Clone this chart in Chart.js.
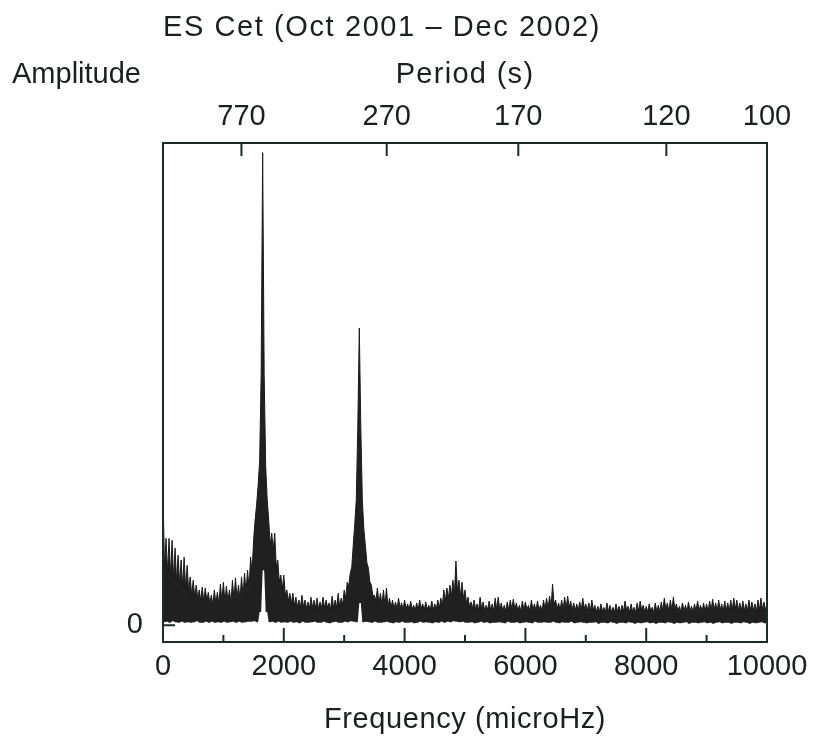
<!DOCTYPE html>
<html>
<head>
<meta charset="utf-8">
<script src="https://cdn.jsdelivr.net/npm/chart.js@4.4.1/dist/chart.umd.min.js"></script>
<style>
  html, body { margin: 0; padding: 0; background: #ffffff; }
  #wrap { width: 817px; height: 743px; }
</style>
</head>
<body>
<div id="wrap"><canvas id="c" width="817" height="743"></canvas></div>
<script>
// ---- data ----
const chartTitle = "ES Cet (Oct 2001 \u2013 Dec 2002)";
const yTitle = "Amplitude";
const topTitle = "Period (s)";
const xTitle = "Frequency (microHz)";

const freqStep = 50;                       // microHz between bins
const freqTicks = [0, 2000, 4000, 6000, 8000, 10000];
const freqMinorTicks = [1000, 3000, 5000, 7000, 9000];
const periodTicks = [770, 270, 170, 120, 100];   // seconds
const ampTicks = [0];

// spectrum amplitude at each 50 microHz bin (tops of the spikes)
const peakAmp = [
  2.70, 1.80, 1.80, 1.76, 1.60, 1.45, 1.35, 1.41, 1.24, 1.00,
  0.93, 0.83, 0.73, 0.79, 0.77, 0.68, 0.62, 0.73, 0.68, 0.85,
  0.89, 0.81, 0.73, 0.93, 0.98, 0.83, 1.00, 1.08, 1.14, 1.41,
  1.76, 2.50, 3.40, 9.80, 3.30, 2.18, 1.91, 1.91, 1.35, 1.04,
  1.04, 0.73, 0.66, 0.66, 0.58, 0.52, 0.62, 0.52, 0.48, 0.58,
  0.52, 0.56, 0.48, 0.58, 0.52, 0.46, 0.60, 0.52, 0.66, 0.56,
  0.73, 0.89, 1.08, 1.66, 2.60, 6.16, 2.60, 1.66, 1.18, 0.83,
  0.62, 0.77, 0.66, 0.73, 0.77, 0.56, 0.52, 0.48, 0.56, 0.46,
  0.52, 0.44, 0.50, 0.41, 0.46, 0.52, 0.44, 0.48, 0.41, 0.50,
  0.44, 0.52, 0.56, 0.73, 0.77, 0.83, 0.93, 1.33, 0.93, 0.89,
  0.73, 0.58, 0.48, 0.52, 0.44, 0.58, 0.48, 0.41, 0.50, 0.44,
  0.56, 0.58, 0.46, 0.41, 0.48, 0.52, 0.54, 0.46, 0.41, 0.50,
  0.48, 0.41, 0.52, 0.44, 0.50, 0.41, 0.52, 0.56, 0.60, 0.85,
  0.52, 0.46, 0.52, 0.58, 0.60, 0.50, 0.46, 0.44, 0.48, 0.56,
  0.44, 0.46, 0.52, 0.41, 0.39, 0.44, 0.37, 0.46, 0.41, 0.37,
  0.44, 0.39, 0.41, 0.50, 0.39, 0.44, 0.37, 0.46, 0.50, 0.41,
  0.39, 0.44, 0.37, 0.46, 0.41, 0.48, 0.56, 0.46, 0.52, 0.58,
  0.44, 0.39, 0.46, 0.41, 0.48, 0.39, 0.44, 0.50, 0.41, 0.46,
  0.44, 0.50, 0.54, 0.46, 0.52, 0.44, 0.50, 0.46, 0.52, 0.56,
  0.52, 0.46, 0.50, 0.44, 0.52, 0.48, 0.44, 0.52, 0.56, 0.48,
  0.46
];

// spectrum amplitude half-way between bins (the dips between spikes)
const dipAmp = [
  1.20, 1.10, 1.00, 0.95, 0.90, 0.85, 0.80, 0.75, 0.70, 0.62,
  0.58, 0.55, 0.50, 0.48, 0.50, 0.45, 0.42, 0.45, 0.44, 0.50,
  0.48, 0.50, 0.46, 0.52, 0.55, 0.52, 0.60, 0.68, 0.75, 1.10,
  2.18, 2.90, 5.20, 5.20, 2.60, 1.66, 1.56, 1.20, 0.90, 0.75,
  0.62, 0.50, 0.45, 0.40, 0.38, 0.36, 0.38, 0.35, 0.34, 0.36,
  0.35, 0.33, 0.35, 0.34, 0.36, 0.33, 0.35, 0.36, 0.38, 0.42,
  0.55, 0.80, 1.20, 2.10, 4.10, 4.10, 2.00, 1.30, 0.90, 0.60,
  0.50, 0.45, 0.42, 0.40, 0.38, 0.36, 0.34, 0.33, 0.35, 0.32,
  0.34, 0.32, 0.33, 0.31, 0.32, 0.34, 0.31, 0.33, 0.31, 0.32,
  0.33, 0.35, 0.40, 0.50, 0.55, 0.60, 0.65, 0.70, 0.60, 0.55,
  0.45, 0.38, 0.35, 0.33, 0.31, 0.33, 0.30, 0.32, 0.31, 0.29,
  0.33, 0.32, 0.30, 0.29, 0.31, 0.33, 0.32, 0.30, 0.29, 0.31,
  0.32, 0.29, 0.31, 0.30, 0.32, 0.29, 0.33, 0.35, 0.38, 0.42,
  0.34, 0.31, 0.33, 0.35, 0.36, 0.32, 0.30, 0.31, 0.32, 0.34,
  0.30, 0.29, 0.31, 0.28, 0.27, 0.29, 0.26, 0.28, 0.27, 0.26,
  0.28, 0.27, 0.29, 0.31, 0.27, 0.28, 0.26, 0.29, 0.31, 0.28,
  0.27, 0.29, 0.26, 0.28, 0.27, 0.30, 0.33, 0.29, 0.31, 0.33,
  0.29, 0.27, 0.29, 0.28, 0.30, 0.27, 0.29, 0.31, 0.28, 0.29,
  0.28, 0.31, 0.32, 0.29, 0.31, 0.28, 0.30, 0.29, 0.31, 0.33,
  0.31, 0.29, 0.30, 0.28, 0.31, 0.30, 0.28, 0.31, 0.32, 0.30,
  0.30
];

// bottom edge of the noise band at each bin (raised under the two big peaks)
const floorAmp = [
  0.06, 0.07, 0.05, 0.08, 0.06, 0.05, 0.07, 0.05, 0.06, 0.05,
  0.06, 0.08, 0.05, 0.05, 0.07, 0.05, 0.07, 0.05, 0.06, 0.05,
  0.07, 0.05, 0.06, 0.07, 0.05, 0.07, 0.05, 0.06, 0.07, 0.07,
  0.08, 0.06, 0.27, 1.14, 0.27, 0.06, 0.07, 0.05, 0.07, 0.05,
  0.06, 0.05, 0.07, 0.05, 0.06, 0.04, 0.07, 0.05, 0.05, 0.06,
  0.07, 0.05, 0.05, 0.07, 0.05, 0.04, 0.06, 0.07, 0.05, 0.05,
  0.07, 0.06, 0.08, 0.07, 0.06, 0.46, 0.06, 0.07, 0.06, 0.05,
  0.07, 0.05, 0.05, 0.06, 0.07, 0.05, 0.04, 0.06, 0.05, 0.07,
  0.05, 0.05, 0.06, 0.04, 0.05, 0.07, 0.05, 0.06, 0.05, 0.04,
  0.06, 0.05, 0.07, 0.05, 0.07, 0.06, 0.08, 0.07, 0.06, 0.07,
  0.05, 0.05, 0.06, 0.04, 0.05, 0.07, 0.05, 0.06, 0.04, 0.05,
  0.05, 0.06, 0.05, 0.04, 0.07, 0.05, 0.05, 0.06, 0.04, 0.05,
  0.06, 0.05, 0.04, 0.07, 0.05, 0.05, 0.06, 0.05, 0.05, 0.07,
  0.05, 0.04, 0.06, 0.05, 0.05, 0.07, 0.04, 0.05, 0.06, 0.05,
  0.04, 0.05, 0.05, 0.06, 0.03, 0.05, 0.05, 0.04, 0.06, 0.05,
  0.03, 0.05, 0.05, 0.04, 0.06, 0.05, 0.03, 0.05, 0.04, 0.05,
  0.06, 0.04, 0.05, 0.03, 0.05, 0.05, 0.04, 0.06, 0.05, 0.03,
  0.05, 0.04, 0.05, 0.06, 0.03, 0.05, 0.05, 0.04, 0.05, 0.06,
  0.04, 0.05, 0.03, 0.05, 0.06, 0.04, 0.05, 0.05, 0.03, 0.05,
  0.05, 0.04, 0.06, 0.05, 0.03, 0.05, 0.04, 0.05, 0.06, 0.04,
  0.05
];

// ---- build the library's data from the arrays ----
const spectrum = [];
const bandFloor = [];
for (let i = 0; i < peakAmp.length; i++) {
  const f = i * freqStep;
  spectrum.push({ x: f, y: peakAmp[i] });
  bandFloor.push({ x: f, y: floorAmp[i] });
  if (i < peakAmp.length - 1) {
    spectrum.push({ x: f + freqStep / 2, y: dipAmp[i] });
    bandFloor.push({ x: f + freqStep / 2, y: floorAmp[i] });
  }
}

const FONT = "'Liberation Sans', Arial, Helvetica, sans-serif";
const INK = '#1c1f22';
const FRAME = '#1e2a2a';

function spacedText(ctx, text, x, y, spacing) {
  ctx.letterSpacing = spacing + 'px';
  ctx.fillText(text, x, y);
  ctx.letterSpacing = '0px';
}

const framePlugin = {
  id: 'framePlugin',
  afterDraw(chart) {
    const ctx = chart.ctx;
    const a = chart.chartArea;
    const xs = chart.scales.x, xt = chart.scales.x2, ys = chart.scales.y;
    ctx.save();
    ctx.strokeStyle = FRAME;
    ctx.lineWidth = 2;
    ctx.strokeRect(a.left, a.top, a.right - a.left, a.bottom - a.top);
    ctx.beginPath();
    freqTicks.forEach(v => {
      const px = xs.getPixelForValue(v);
      ctx.moveTo(px, a.bottom); ctx.lineTo(px, a.bottom - 14);
    });
    freqMinorTicks.forEach(v => {
      const px = xs.getPixelForValue(v);
      ctx.moveTo(px, a.bottom); ctx.lineTo(px, a.bottom - 7);
    });
    periodTicks.forEach(p => {
      const px = xt.getPixelForValue(1e6 / p);
      ctx.moveTo(px, a.top); ctx.lineTo(px, a.top + 13);
    });
    ampTicks.forEach(v => {
      const py = ys.getPixelForValue(v);
      ctx.moveTo(a.left, py); ctx.lineTo(a.left + 12, py);
    });
    ctx.stroke();

    ctx.fillStyle = INK;
    ctx.font = '29px ' + FONT;
    ctx.textBaseline = 'middle';
    ctx.textAlign = 'center';
    spacedText(ctx, chartTitle, 382, 28, 1.6);
    spacedText(ctx, topTitle, (a.left + a.right) / 2, 75, 1.3);
    spacedText(ctx, xTitle, (a.left + a.right) / 2, 720, 0.6);
    ctx.textAlign = 'left';
    ctx.fillText(yTitle, 12, 75);
    ctx.restore();
  }
};

new Chart(document.getElementById('c'), {
  type: 'line',
  data: {
    datasets: [{
      data: spectrum,
      borderColor: '#1a1a1a',
      borderWidth: 1,
      backgroundColor: '#202020',
      pointRadius: 0,
      tension: 0,
      fill: { target: 1 }
    }, {
      data: bandFloor,
      showLine: false,
      borderWidth: 1,
      borderColor: 'rgba(0,0,0,0)',
      pointRadius: 0,
      tension: 0,
      fill: false
    }]
  },
  options: {
    responsive: false,
    animation: false,
    devicePixelRatio: 1,
    layout: { padding: { top: 0, right: 50, bottom: 0, left: 0 } },
    plugins: { legend: { display: false }, tooltip: { enabled: false }, title: { display: false } },
    scales: {
      x: {
        type: 'linear', position: 'bottom', min: 0, max: 10000,
        grid: { display: false, drawTicks: false },
        border: { display: false },
        afterBuildTicks: s => { s.ticks = freqTicks.map(v => ({ value: v })); },
        afterFit: s => { s.height = 101; },
        ticks: {
          autoSkip: false, maxRotation: 0, padding: 8, color: INK,
          font: { family: FONT, size: 29 },
          callback: v => String(v)
        }
      },
      x2: {
        type: 'linear', position: 'top', min: 0, max: 10000,
        grid: { display: false, drawTicks: false },
        border: { display: false },
        afterBuildTicks: s => { s.ticks = periodTicks.map(p => ({ value: 1e6 / p })); },
        afterFit: s => { s.height = 143; },
        ticks: {
          autoSkip: false, maxRotation: 0, padding: 9, color: INK,
          font: { family: FONT, size: 29 },
          callback: (v, i) => String(periodTicks[i])
        }
      },
      y: {
        type: 'linear', position: 'left', min: -0.35, max: 10,
        grid: { display: false, drawTicks: false },
        border: { display: false },
        afterBuildTicks: s => { s.ticks = ampTicks.map(v => ({ value: v })); },
        afterFit: s => { s.width = 163; },
        ticks: {
          autoSkip: false, padding: 20, color: INK,
          font: { family: FONT, size: 29 },
          callback: v => String(v)
        }
      }
    }
  },
  plugins: [framePlugin]
});
</script>
</body>
</html>
